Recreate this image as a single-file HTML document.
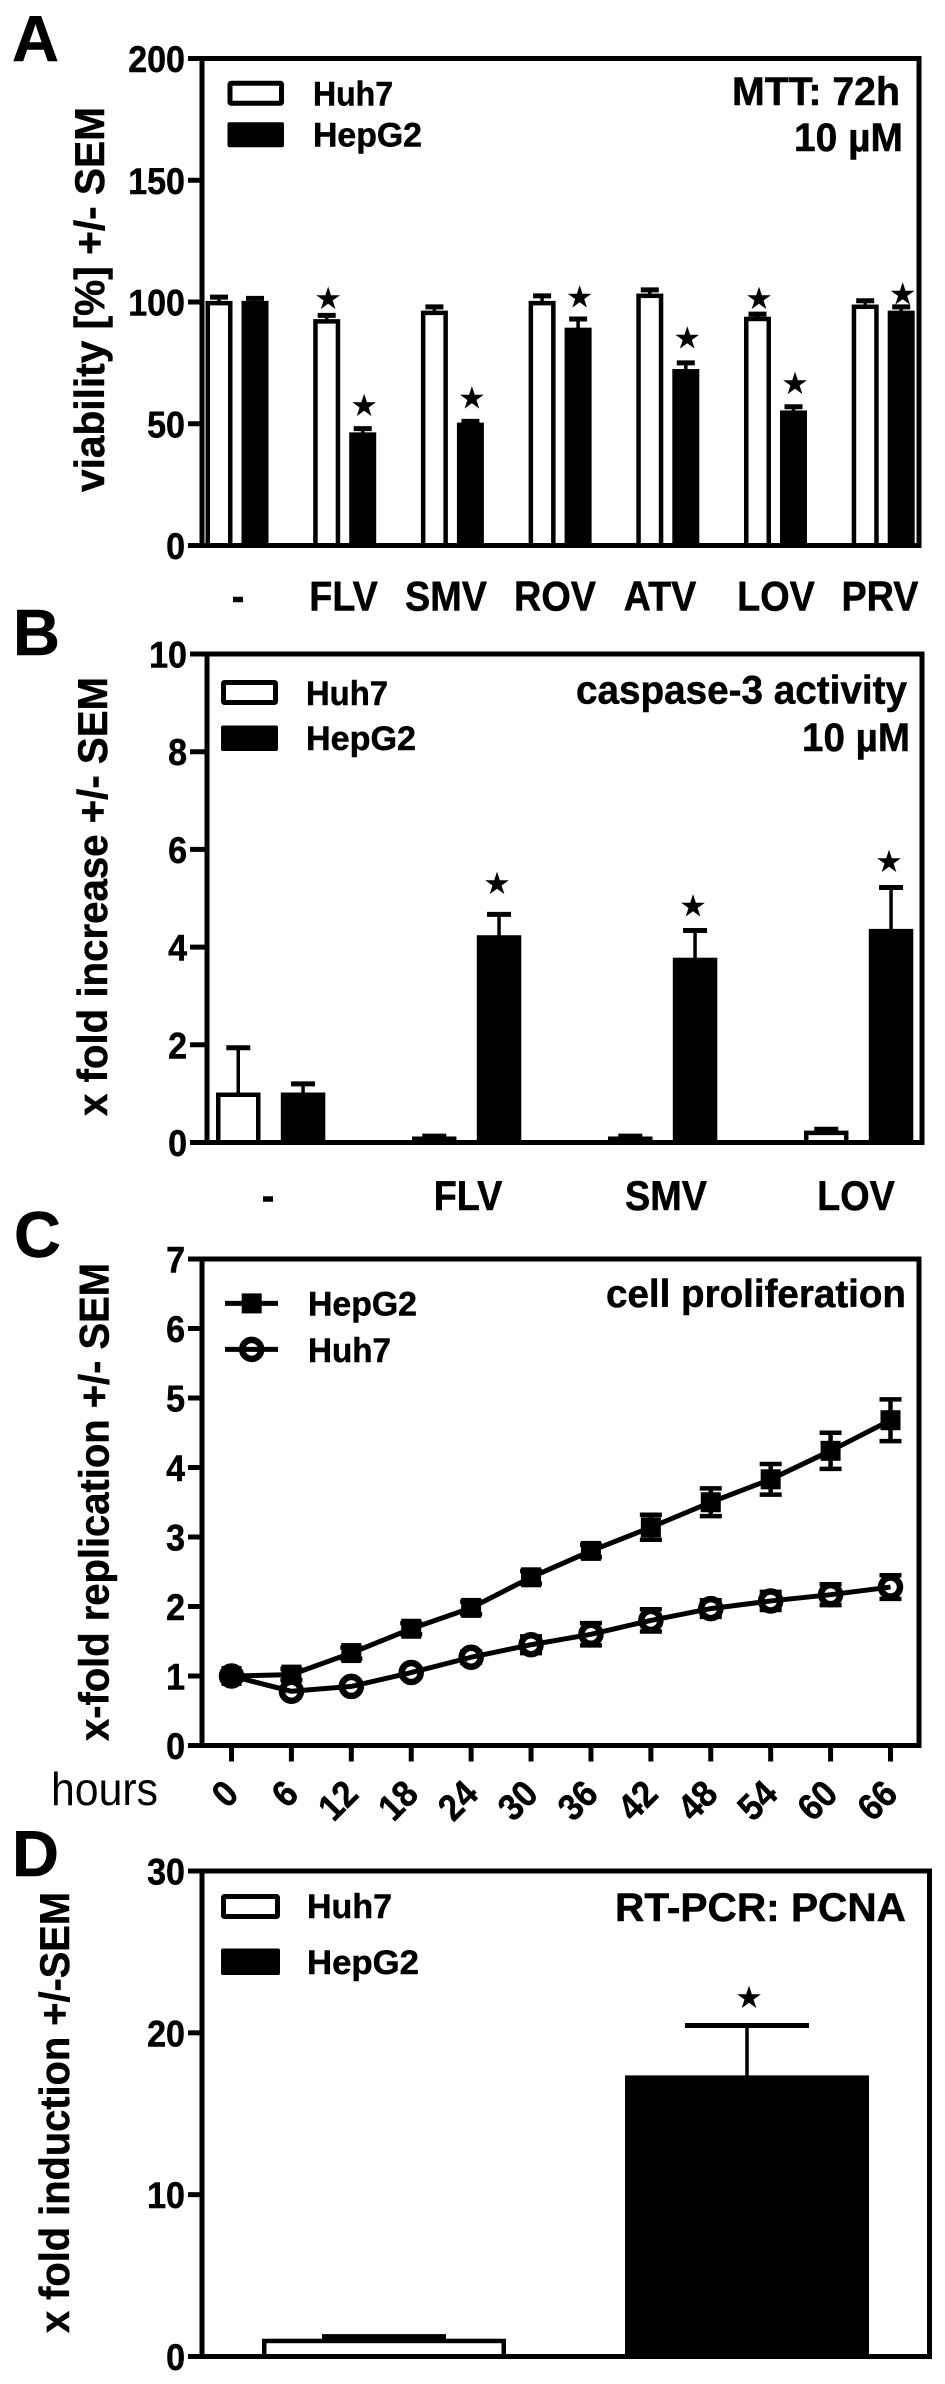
<!DOCTYPE html>
<html lang="en">
<head>
<meta charset="utf-8">
<title>Statin effects on Huh7 and HepG2 cells</title>
<style>
html,body{margin:0;padding:0;background:#fff;}
svg{display:block;}
text{font-family:"Liberation Sans",Arial,sans-serif;font-weight:700;fill:#000;stroke:#000;stroke-width:.5px;white-space:pre;}
</style>
</head>
<body>
<svg id="figure" xmlns="http://www.w3.org/2000/svg" width="945" height="2384" viewBox="0 0 945 2384">
<rect width="945" height="2384" fill="#fff"/>

<!-- Panel letters -->
<text x="12" y="61" font-size="65">A</text>
<text x="13" y="655" font-size="65">B</text>
<text x="14" y="1257" font-size="65">C</text>
<text x="12" y="1876" font-size="65">D</text>

<!-- Panel A static -->
<g>
<text transform="translate(104 492) rotate(-90)" font-size="42" textLength="385" lengthAdjust="spacingAndGlyphs">viability [%] +/- SEM</text>
<rect x="230" y="83.3" width="51.5" height="20" rx="1" fill="#fff" stroke="#000" stroke-width="5"/>
<rect x="227.5" y="122.3" width="56.5" height="25" rx="2" fill="#000"/>
<text x="313" y="105.7" font-size="34" textLength="80" lengthAdjust="spacingAndGlyphs">Huh7</text>
<text x="313" y="146.7" font-size="34" textLength="109" lengthAdjust="spacingAndGlyphs">HepG2</text>
<text x="732" y="105" font-size="39.5" textLength="168" lengthAdjust="spacingAndGlyphs">MTT: 72h</text>
<text x="794" y="151" font-size="39.5" textLength="109" lengthAdjust="spacingAndGlyphs">10 µM</text>
</g>

<!-- Panel B static -->
<g>
<text transform="translate(107 1116) rotate(-90)" font-size="42" textLength="439" lengthAdjust="spacingAndGlyphs">x fold increase +/- SEM</text>
<rect x="223.5" y="682.5" width="52" height="20" rx="1" fill="#fff" stroke="#000" stroke-width="5"/>
<rect x="221" y="725.5" width="57" height="25.5" rx="2" fill="#000"/>
<text x="306" y="705" font-size="34" textLength="82" lengthAdjust="spacingAndGlyphs">Huh7</text>
<text x="306" y="750" font-size="34" textLength="110" lengthAdjust="spacingAndGlyphs">HepG2</text>
<text x="576" y="703.5" font-size="39.5" textLength="331" lengthAdjust="spacingAndGlyphs">caspase-3 activity</text>
<text x="802" y="751" font-size="39.5" textLength="108" lengthAdjust="spacingAndGlyphs">10 µM</text>
</g>

<!-- Panel C static -->
<g>
<text transform="translate(108.5 1741) rotate(-90)" font-size="42" textLength="478" lengthAdjust="spacingAndGlyphs">x-fold replication +/- SEM</text>
<text x="51" y="1805" font-size="46" style="font-weight:400;stroke:none" textLength="107" lengthAdjust="spacingAndGlyphs">hours</text>
<line x1="225" y1="1303.4" x2="278" y2="1303.4" stroke="#000" stroke-width="5"/>
<rect x="241.7" y="1293.4" width="20" height="20" fill="#000"/>
<circle cx="251.7" cy="1349.4" r="9.5" fill="#fff" stroke="#000" stroke-width="6.5"/>
<line x1="225" y1="1349.4" x2="278" y2="1349.4" stroke="#000" stroke-width="5"/>
<text x="308" y="1315.7" font-size="34" textLength="109" lengthAdjust="spacingAndGlyphs">HepG2</text>
<text x="308" y="1362" font-size="34" textLength="83" lengthAdjust="spacingAndGlyphs">Huh7</text>
<text x="606" y="1307" font-size="39" textLength="300" lengthAdjust="spacingAndGlyphs">cell proliferation</text>
</g>

<!-- Panel D static -->
<g>
<text transform="translate(69 2333) rotate(-90)" font-size="42" textLength="441" lengthAdjust="spacingAndGlyphs">x fold induction +/-SEM</text>
<rect x="223.5" y="1896.5" width="54" height="20" rx="1" fill="#fff" stroke="#000" stroke-width="5"/>
<rect x="221" y="1948.5" width="59" height="26.5" rx="2" fill="#000"/>
<text x="307" y="1918" font-size="34" textLength="85" lengthAdjust="spacingAndGlyphs">Huh7</text>
<text x="307" y="1974" font-size="34" textLength="112" lengthAdjust="spacingAndGlyphs">HepG2</text>
<text x="615" y="1921" font-size="39.5" textLength="291" lengthAdjust="spacingAndGlyphs">RT-PCR: PCNA</text>
</g>
</svg>

<script>
// Panel A data
const aCategories = ["-", "FLV", "SMV", "ROV", "ATV", "LOV", "PRV"];
const aHuh7 = [100, 92.5, 96, 100, 103, 93.5, 98.5];
const aHuh7Err = [2, 2, 2, 2.5, 2, 1.5, 2];
const aHepG2 = [100, 46, 50, 89, 72, 55, 96];
const aHepG2Err = [1.5, 2, 1, 4, 3, 2, 2];
const aHuh7Stars = [null, 101.5, null, null, null, 101.5, null];
const aHepG2Stars = [null, 57.6, 60.5, 102, 85.2, 66.5, 103.4];
const aTicks = [0, 50, 100, 150, 200];

// Panel B data
const bCategories = ["-", "FLV", "SMV", "LOV"];
const bHuh7 = [1.0, 0.1, 0.1, 0.22];
const bHuh7Err = [0.94, 0.03, 0.03, 0.05];
const bHepG2 = [1.0, 4.22, 3.76, 4.35];
const bHepG2Err = [0.2, 0.45, 0.58, 0.87];
const bHuh7Stars = [null, null, null, null];
const bHepG2Stars = [null, 5.3, 4.84, 5.75];
const bTicks = [0, 2, 4, 6, 8, 10];

// Panel C data
const cHours = [0, 6, 12, 18, 24, 30, 36, 42, 48, 54, 60, 66];
const cHepG2 = [1, 1.02, 1.33, 1.68, 1.98, 2.42, 2.8, 3.14, 3.5, 3.83, 4.24, 4.68];
const cHepG2Err = [0, 0.08, 0.08, 0.08, 0.09, 0.09, 0.09, 0.18, 0.2, 0.22, 0.26, 0.3];
const cHuh7 = [1, 0.78, 0.85, 1.05, 1.27, 1.45, 1.6, 1.8, 1.97, 2.08, 2.17, 2.28];
const cHuh7Err = [0, 0.05, 0.05, 0.05, 0.08, 0.12, 0.16, 0.16, 0.12, 0.13, 0.15, 0.17];
const cTicks = [0, 1, 2, 3, 4, 5, 6, 7];

// Panel D data
const dSeries = ["Huh7", "HepG2"];
const dValues = [1.03, 17.3];
const dErrors = [0.2, 3.15];
const dStars = [null, 22.2];
const dTicks = [0, 10, 20, 30];

const svg = document.getElementById('figure');
const NS = 'http://www.w3.org/2000/svg';
const STAR = '\u2605';

function mk(tag, attrs, parent) {
  const el = document.createElementNS(NS, tag);
  for (const k in attrs) el.setAttribute(k, attrs[k]);
  (parent || svg).appendChild(el);
  return el;
}

// The reference type is set slightly condensed: squeeze along the baseline.
function condense(el, ratio) {
  const w = el.getComputedTextLength();
  el.setAttribute('textLength', (w * ratio).toFixed(2));
  el.setAttribute('lengthAdjust', 'spacingAndGlyphs');
}

function linearScale(d0, d1, r0, r1) {
  return function (v) { return r0 + (v - d0) * (r1 - r0) / (d1 - d0); };
}

function drawFrame(prefix, box, ticks, y, labelRight) {
  const g = mk('g', {});
  
  
  const frame = mk('rect', {x: box.left, y: box.top, width: box.right - box.left, height: box.bottom - box.top, fill: 'none', stroke: '#000', 'stroke-width': 5}, g);
  
  
  ticks.forEach(function (t) {
    const tick = mk('line', {x1: box.tickLeft, x2: box.left, y1: y(t), y2: y(t), stroke: '#000', 'stroke-width': 5}, g);
    
    
    const label = mk('text', {x: labelRight, y: y(t) + 13.5, 'font-size': 37, 'text-anchor': 'end'}, g);
    label.textContent = t;
    
    
    condense(label, 0.92);
  });
}

function drawBar(prefix, seriesName, xLeft, width, value, err, capHalf, y, white, errWidth) {
  const g = mk('g', {});
  
  
  const cx = xLeft + width / 2;
  const topErr = y(value + err);
  const errLine = mk('line', {x1: cx, x2: cx, y1: y(value), y2: topErr, stroke: '#000', 'stroke-width': errWidth}, g);
  
  
  const cap = mk('line', {x1: cx - capHalf, x2: cx + capHalf, y1: topErr, y2: topErr, stroke: '#000', 'stroke-width': 5}, g);
  
  
  const inset = 2.25;
  const rect = mk('rect', {
    x: xLeft + inset, y: y(value) + inset * 0.5,
    width: width - inset * 2, height: Math.max(0, y(0) - y(value) - inset * 0.5),
    fill: white ? '#fff' : '#000', stroke: '#000', 'stroke-width': 4.5
  }, g);
  
  
}

function drawStar(prefix, cx, yPos, size) {
  const s = mk('text', {x: cx, y: yPos + size * 0.34, 'font-size': size, 'text-anchor': 'middle', style: 'font-family:"DejaVu Sans",sans-serif;font-weight:400;stroke:none'});
  s.textContent = STAR;
  
  
}

function drawCategories(prefix, names, xFn, baseline, size) {
  names.forEach(function (name, i) {
    const t = mk('text', {x: xFn(i), y: baseline, 'font-size': size, 'text-anchor': 'middle'});
    t.textContent = name;
    
    
    condense(t, 0.9);
  });
}

function drawGroupedPanel(prefix, box, yMax, ticks, cats, huh, huhErr, hep, hepErr, huhStars, hepStars, layout) {
  const y = linearScale(0, yMax, box.bottom, box.top);
  cats.forEach(function (c, i) {
    const x0 = layout.start + layout.pitch * i;
    const x1 = x0 + layout.offset;
    drawBar(prefix, 'huh7', x0, layout.width, huh[i], huhErr[i], layout.cap, y, true, 3.5);
    drawBar(prefix, 'hepg2', x1, layout.width, hep[i], hepErr[i], layout.cap, y, false, 3.5);
    if (huhStars[i] !== null) drawStar(prefix, x0 + layout.width / 2 + layout.starShift, y(huhStars[i]), layout.star);
    if (hepStars[i] !== null) drawStar(prefix, x1 + layout.width / 2 + layout.starShift, y(hepStars[i]), layout.star);
  });
  drawFrame(prefix, box, ticks, y, layout.labelRight);
}

// Panel A
drawGroupedPanel('panel-a', {left: 202, right: 919, top: 58.5, bottom: 545.5, tickLeft: 188},
  200, aTicks, aCategories, aHuh7, aHuh7Err, aHepG2, aHepG2Err, aHuh7Stars, aHepG2Stars,
  {start: 205.5, pitch: 107.7, offset: 36, width: 27, cap: 9, star: 31, starShift: 1.5, labelRight: 185});
const aLabelX = linearScale(0, 6, 238, 880);
function aLabelNudge(i) {
  if (i === 1) return -1.4;
  if (i === 2) return -6;
  if (i === 3) return -4;
  if (i === 4) return -6;
  if (i === 5) return 3;
  return 0;
}
drawCategories('panel-a', aCategories, function (i) { return aLabelX(i) + aLabelNudge(i); }, 610.7, 42);

// Panel B
drawGroupedPanel('panel-b', {left: 207, right: 922, top: 654, bottom: 1142.5, tickLeft: 190},
  10, bTicks, bCategories, bHuh7, bHuh7Err, bHepG2, bHepG2Err, bHuh7Stars, bHepG2Stars,
  {start: 216, pitch: 196, offset: 64.8, width: 44.5, cap: 12, star: 31, starShift: -2, labelRight: 187});
const bLabelX = linearScale(0, 3, 268, 856);
drawCategories('panel-b', bCategories, function (i) { return bLabelX(i) + (i === 1 ? 4 : i === 2 ? 6 : 0); }, 1210, 42);

// Panel C
(function () {
  const box = {left: 202, right: 919, top: 1259, bottom: 1745.5, tickLeft: 188};
  const y = linearScale(0, 7, box.bottom, box.top);
  const x = linearScale(0, 66, 231.5, 890.5);
  drawFrame('panel-c', box, cTicks, y, 185);

  cHours.forEach(function (h) {
    const tick = mk('line', {x1: x(h), x2: x(h), y1: box.bottom, y2: 1761.5, stroke: '#000', 'stroke-width': 5});
    
    
    const ex = x(h) + 9;
    const label = mk('text', {x: ex, y: 1796, 'font-size': 37, 'text-anchor': 'end', transform: 'rotate(-45 ' + ex + ' 1796)'});
    label.textContent = h;
    
    
    condense(label, 0.92);
  });

  function series(name, values, errs, isSquare) {
    const g = mk('g', {});
    
    
    const pts = cHours.map(function (h, i) { return x(h) + ',' + y(values[i]); }).join(' ');
    function addLine() {
      const line = mk('polyline', {points: pts, fill: 'none', stroke: '#000', 'stroke-width': 5, 'stroke-linejoin': 'round'}, g);
      
      
    }
    if (isSquare) addLine();
    cHours.forEach(function (h, i) {
      const px = x(h);
      if (errs[i] > 0) {
        const hi = y(values[i] + errs[i]);
        const lo = y(values[i] - errs[i]);
        const e = mk('path', {d: 'M' + px + ' ' + hi + 'V' + lo + 'M' + (px - 11) + ' ' + hi + 'H' + (px + 11) + 'M' + (px - 11) + ' ' + lo + 'H' + (px + 11), fill: 'none', stroke: '#000', 'stroke-width': 4.5}, g);
        
        
      }
      if (isSquare) {
        const m = mk('rect', {x: px - 10, y: y(values[i]) - 10, width: 20, height: 20, fill: '#000'}, g);
        
        
      } else {
        const m = mk('circle', {cx: px, cy: y(values[i]), r: 9.5, fill: i === 0 ? '#000' : '#fff', stroke: '#000', 'stroke-width': 6.5}, g);
        
        
      }
    });
    if (!isSquare) addLine();
  }
  series('hepg2', cHepG2, cHepG2Err, true);
  series('huh7', cHuh7, cHuh7Err, false);
})();

// Panel D
(function () {
  const box = {left: 202, right: 929.5, top: 1871, bottom: 2356.5, tickLeft: 188};
  const y = linearScale(0, 30, box.bottom, box.top);
  dSeries.forEach(function (name, i) {
    const left = 262 + i * 363;
    drawBar('panel-d', name.toLowerCase(), left, 244, dValues[i], dErrors[i], 62, y, i === 0, 3.5);
    if (dStars[i] !== null) drawStar('panel-d', left + 244 / 2 + 2, y(dStars[i]), 31);
  });
  drawFrame('panel-d', box, dTicks, y, 185);
})();
</script>
</body>
</html>
